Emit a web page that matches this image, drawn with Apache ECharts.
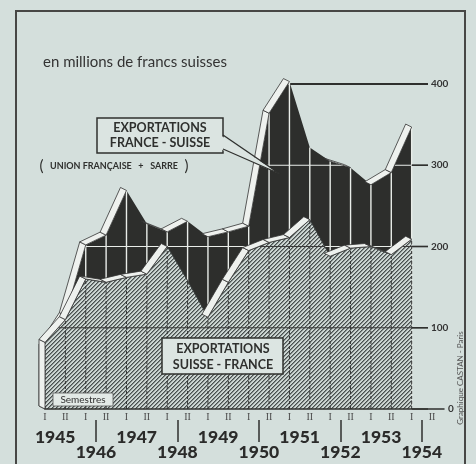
<!DOCTYPE html>
<html>
<head>
<meta charset="utf-8">
<script src="https://cdn.jsdelivr.net/npm/echarts@6/dist/echarts.min.js"></script>
<style>
  html, body { margin: 0; background: #d4dfdc; }
  #chart { width: 476px; height: 464px; }
</style>
</head>
<body>
<div id="chart"></div>
<script>
// semestres 1945 I ... 1954 II
const semesters = ['I', 'II', 'I', 'II', 'I', 'II', 'I', 'II', 'I', 'II',
                   'I', 'II', 'I', 'II', 'I', 'II', 'I', 'II', 'I', 'II'];
const years = ['1945', '1946', '1947', '1948', '1949', '1950', '1951', '1952', '1953', '1954'];
// exportations Suisse -> France (hachuré)
const suisseFrance = [82, 110, 160, 156, 162, 166, 200, 158, 113, 156, 195, 205, 211, 233, 188, 198, 200, 190, 209];
// exportations France -> Suisse (noir)
const franceSuisse = [76, 115, 202, 214, 269, 228, 218, 231, 212, 218, 225, 364, 403, 322, 305, 297, 276, 291, 347];
const yTicks = [0, 100, 200, 300, 400];

const STEP = 20.37;              // px par semestre
const GRID = { left: 45, top: 84, width: 399, height: 325 };
const X_MAX = GRID.width / STEP;
const SHIFT = 6 / STEP;          // la courbe noire est décalée vers la gauche
const D = [-6, -3];              // profondeur du relief
const BG = '#d4dfdc';
const INK = '#2f302e';

const chart = echarts.init(document.getElementById('chart'));

// trame hachurée
const tile = document.createElement('canvas');
tile.width = 4; tile.height = 4;
const g = tile.getContext('2d');
g.fillStyle = '#ccd5d2'; g.fillRect(0, 0, 4, 4);
for (let i = 0; i < 4; i++) {
  g.fillStyle = '#484f4e'; g.fillRect(i, 3 - i, 1, 1);
  g.fillStyle = '#858d8b'; g.fillRect(i, (4 - i) % 4, 1, 1);
}

const bandStyle = { fill: '#eef1ee', stroke: '#333', lineWidth: 0.8 };

function decor(vals, look) {
  return function (params, api) {
    const pts = vals.map((v, i) => api.coord([i + look.off, v]));
    const y0 = api.coord([look.off, 0])[1];
    const xAxisPos = api.coord([X_MAX + look.off, 0])[0] - 16;
    const kids = [];
    pts.forEach(p => kids.push({
      type: 'line', shape: { x1: p[0], y1: y0, x2: p[0], y2: p[1] },
      style: { stroke: look.vStroke, lineWidth: look.vWidth, lineDash: look.vDash }
    }));
    yTicks.slice(1).forEach(L => {
      const yL = api.coord([look.off, L])[1];
      for (let i = 0; i < vals.length - 1; i++) {
        const a = vals[i], b = vals[i + 1];
        if (a < L && b < L) continue;
        let t0 = 0, t1 = 1;
        if (a < L) t0 = (L - a) / (b - a);
        if (b < L) t1 = (a - L) / (a - b);
        const dx = pts[i + 1][0] - pts[i][0];
        kids.push({
          type: 'line',
          shape: { x1: pts[i][0] + dx * t0, y1: yL, x2: pts[i][0] + dx * t1, y2: yL },
          style: { stroke: look.gStroke, lineWidth: 1 }
        });
      }
      if (look.extend) {
        // prolongement du quadrillage jusqu'à l'échelle
        let xs = null;
        const n = vals.length - 1;
        if (vals[n] >= L) xs = pts[n][0];
        else {
          for (let i = n - 1; i >= 0; i--) {
            if (vals[i] >= L) {
              const t = (vals[i] - L) / (vals[i] - vals[i + 1]);
              xs = pts[i][0] + (pts[i + 1][0] - pts[i][0]) * t;
              break;
            }
          }
        }
        if (xs !== null) {
          kids.push({
            type: 'line', shape: { x1: xs, y1: yL, x2: xAxisPos, y2: yL },
            style: { stroke: INK, lineWidth: L === 400 ? 2 : 1.3 }
          });
        }
      }
    });
    const p0 = pts[0];
    kids.push({
      type: 'polygon',
      shape: { points: [[p0[0], y0], [p0[0], p0[1]], [p0[0] + D[0], p0[1] + D[1]], [p0[0] + D[0], y0 + D[1]]] },
      style: bandStyle
    });
    for (let i = 0; i < pts.length - 1; i++) {
      const p = pts[i], q = pts[i + 1];
      const cross = (q[0] - p[0]) * D[1] - (q[1] - p[1]) * D[0];
      if (cross >= 0) continue;
      kids.push({
        type: 'polygon',
        shape: { points: [p, q, [q[0] + D[0], q[1] + D[1]], [p[0] + D[0], p[1] + D[1]]] },
        style: bandStyle
      });
    }
    if (look.ticks) {
      // repères de l'échelle de droite
      yTicks.forEach(L => {
        const yL = api.coord([look.off, L])[1];
        kids.push({
          type: 'line', shape: { x1: xAxisPos - 16, y1: yL, x2: xAxisPos, y2: yL },
          style: { stroke: INK, lineWidth: L === 400 ? 2 : 1.4 }
        });
      });
    }
    return { type: 'group', children: kids };
  };
}

const boxText = { font: 'bold 12.5px Lato', fill: INK, align: 'center', verticalAlign: 'middle', textAlign: 'center', textVerticalAlign: 'middle' };

chart.setOption({
  backgroundColor: BG,
  animation: false,
  grid: { left: GRID.left, top: GRID.top, width: GRID.width, height: GRID.height },
  xAxis: [
    {
      type: 'value', min: 0, max: X_MAX, interval: 1, z: 5,
      axisLine: { lineStyle: { color: INK, width: 1.5 } },
      axisTick: { show: false },
      splitLine: { show: false },
      axisLabel: {
        margin: 3, fontFamily: 'Liberation Serif', fontSize: 10, color: '#4a4a4a',
        showMinLabel: true, showMaxLabel: true,
        formatter: v => {
          const r = Math.round(v);
          return Math.abs(v - r) < 1e-6 && semesters[r] ? semesters[r] : '';
        }
      }
    },
    { type: 'value', min: SHIFT, max: X_MAX + SHIFT, show: false },
    {
      type: 'value', min: 0, max: X_MAX, position: 'bottom', offset: 11,
      axisLine: { show: false },
      splitLine: { show: false },
      axisTick: {
        show: true, inside: false, length: 22,
        customValues: years.filter((y, j) => j % 2 === 1).map((y, j) => 4 * j + 2.5),
        lineStyle: { color: INK, width: 1.5 }
      },
      axisLabel: {
        margin: 9.5,
        customValues: years.map((y, j) => 2 * j + 0.5),
        formatter: v => {
          const j = Math.round((v - 0.5) / 2);
          return j % 2 === 0 ? '{a|' + years[j] + '}\n{b| }' : '{b| }\n{a|' + years[j] + '}';
        },
        rich: {
          a: { fontFamily: 'Lato', fontWeight: 900, fontSize: 17.5, lineHeight: 15, color: '#2b2b2a' },
          b: { fontSize: 17, lineHeight: 15 }
        }
      }
    }
  ],
  yAxis: {
    type: 'value', min: 0, max: 400, interval: 100, position: 'right', offset: -16,
    axisLine: { show: false },
    splitLine: { show: false },
    axisTick: { show: false },
    axisLabel: {
      margin: 3, fontFamily: 'Lato', fontWeight: 'bold', fontSize: 10, color: '#333',
      formatter: v => v === 0 ? '{z|0}' : String(v),
      rich: { z: { padding: [0, 0, 0, 17], fontFamily: 'Lato', fontWeight: 'bold', fontSize: 10, color: '#333' } }
    }
  },
  series: [
    {
      name: 'France - Suisse', type: 'line', xAxisIndex: 1, z: 1, clip: false,
      data: franceSuisse.map((v, i) => [i + SHIFT, v]),
      showSymbol: false, lineStyle: { width: 0 },
      areaStyle: { color: '#2d2e2c', opacity: 1 }
    },
    {
      type: 'custom', xAxisIndex: 1, z: 2, clip: false, data: [[SHIFT, 0]],
      renderItem: decor(franceSuisse, { off: SHIFT, vStroke: '#e9ede9', vWidth: 1.4, vDash: null, gStroke: '#e9ede9', extend: true, ticks: false })
    },
    {
      name: 'Suisse - France', type: 'line', xAxisIndex: 0, z: 3, clip: false,
      data: suisseFrance.map((v, i) => [i, v]),
      showSymbol: false, lineStyle: { width: 1, color: '#3a3f3e' },
      areaStyle: { color: { image: tile, repeat: 'repeat' }, opacity: 1 }
    },
    {
      type: 'custom', xAxisIndex: 0, z: 4, clip: false, data: [[0, 0]],
      renderItem: decor(suisseFrance, { off: 0, vStroke: '#333', vWidth: 1, vDash: [3, 2], gStroke: '#3a3a3a', extend: false, ticks: true })
    }
  ],
  graphic: [
    { type: 'rect', z: 10, shape: { x: 16, y: 11, width: 449, height: 470 }, style: { fill: 'none', stroke: '#474745', lineWidth: 2 } },
    { type: 'text', z: 10, x: 43, y: 62, style: { text: 'en millions de francs suisses', font: '15px Lato', fill: '#333', verticalAlign: 'middle', textVerticalAlign: 'middle' } },
    // encadré France - Suisse
    { type: 'rect', z: 10, shape: { x: 97, y: 118, width: 126, height: 35 }, style: { fill: '#dbe4e1', stroke: INK, lineWidth: 1.5 } },
    { type: 'polygon', z: 11, shape: { points: [[220, 135], [280, 174], [220, 149]] }, style: { fill: '#dbe4e1' } },
    { type: 'polyline', z: 11, shape: { points: [[223, 135], [280, 174], [223, 149]] }, style: { fill: 'none', stroke: INK, lineWidth: 1.3 } },
    { type: 'text', z: 12, x: 160, y: 128, style: Object.assign({ text: 'EXPORTATIONS' }, boxText) },
    { type: 'text', z: 12, x: 160, y: 143, style: Object.assign({ text: 'FRANCE - SUISSE' }, boxText) },
    {
      type: 'text', z: 10, x: 114, y: 166,
      style: {
        text: '{p|(}   UNION FRANÇAISE   +   SARRE   {p|)}', font: 'bold 9px Lato', fill: INK,
        align: 'center', verticalAlign: 'middle', textAlign: 'center', textVerticalAlign: 'middle',
        rich: { p: { font: '15px Lato', fill: INK } }
      }
    },
    // encadré Suisse - France
    { type: 'rect', z: 10, shape: { x: 162, y: 338, width: 121, height: 36 }, style: { fill: '#dce5e2', stroke: INK, lineWidth: 1.5 } },
    { type: 'text', z: 12, x: 223, y: 349, style: Object.assign({ text: 'EXPORTATIONS' }, boxText) },
    { type: 'text', z: 12, x: 223, y: 365, style: Object.assign({ text: 'SUISSE - FRANCE' }, boxText) },
    // semestres
    { type: 'rect', z: 10, shape: { x: 53, y: 393, width: 60, height: 13 }, style: { fill: '#e2e9e6', stroke: '#555', lineWidth: 0.8 } },
    { type: 'text', z: 11, x: 83, y: 399.5, style: { text: 'Semestres', font: '10px Lato', fill: '#333', align: 'center', verticalAlign: 'middle', textAlign: 'center', textVerticalAlign: 'middle' } },
    {
      type: 'text', z: 10, x: 460, y: 378, rotation: Math.PI / 2,
      style: { text: 'Graphique CASTAN - Paris', font: '8px Lato', fill: '#555', align: 'center', verticalAlign: 'middle', textAlign: 'center', textVerticalAlign: 'middle' }
    }
  ]
});
</script>
</body>
</html>
